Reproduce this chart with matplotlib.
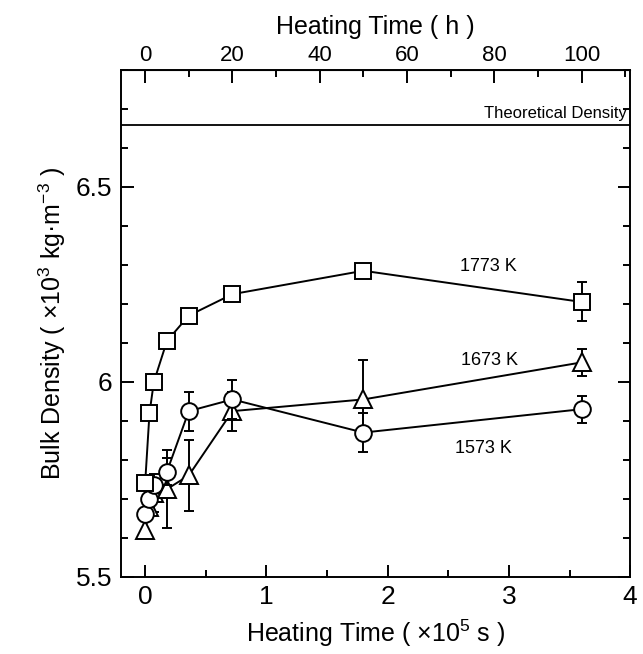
import numpy as np
import matplotlib.pyplot as plt
from matplotlib.ticker import MultipleLocator

plt.rcParams['font.family'] = ['Liberation Sans', 'DejaVu Sans']
plt.rcParams['mathtext.fontset'] = 'custom'
plt.rcParams['mathtext.rm'] = 'Liberation Sans'
plt.rcParams['mathtext.it'] = 'Liberation Sans:italic'
plt.rcParams['mathtext.default'] = 'regular'

# heating time in units of 1e5 s (0, 1, 2, 5, 10, 20, 50, 100 h)
time_s = [0, 0.036, 0.072, 0.18, 0.36, 0.72, 1.8, 3.6]

d1773 = [5.74, 5.92, 6.00, 6.105, 6.17, 6.225, 6.285, 6.205]
e1773 = [0, 0, 0.02, 0, 0, 0.01, 0.01, 0.05]

d1673 = [5.62, 5.68, 5.715, 5.725, 5.76, 5.925, 5.955, 6.05]
e1673 = [0, 0, 0.05, 0.1, 0.09, 0.05, 0.1, 0.035]

d1573 = [5.66, 5.70, 5.735, 5.77, 5.925, 5.955, 5.87, 5.93]
e1573 = [0, 0, 0, 0.035, 0.05, 0.05, 0.05, 0.035]

theo_density = 6.66

fig = plt.figure(figsize=(6.43, 6.54), dpi=100)
ax = fig.add_axes([0.188, 0.118, 0.792, 0.775])

style = dict(color='k', mfc='white', mec='k', mew=1.4, lw=1.4,
             ecolor='k', elinewidth=1.4, capsize=3.5, capthick=1.4)
ax.errorbar(time_s, d1673, yerr=e1673, marker='^', ms=13, zorder=3, **style)
ax.errorbar(time_s, d1573, yerr=e1573, marker='o', ms=12, zorder=4, **style)
ax.errorbar(time_s, d1773, yerr=e1773, marker='s', ms=12, zorder=5, **style)

ax.axhline(theo_density, color='k', lw=1.3)
ax.text(3.97, theo_density + 0.008, 'Theoretical Density', ha='right', va='bottom', fontsize=12)

ax.text(2.83, 6.295, '1773 K', ha='center', va='center', fontsize=13)
ax.text(2.84, 6.056, '1673 K', ha='center', va='center', fontsize=13)
ax.text(2.79, 5.83, '1573 K', ha='center', va='center', fontsize=13)

ax.set_xlim(-0.2, 4.0)
ax.set_ylim(5.5, 6.8)
ax.set_xticks([0, 1, 2, 3, 4])
ax.xaxis.set_minor_locator(MultipleLocator(0.5))
ax.set_yticks([5.5, 6.0, 6.5])
ax.set_yticklabels(['5.5', '6', '6.5'])
ax.yaxis.set_minor_locator(MultipleLocator(0.1))
ax.tick_params(which='both', direction='in', right=True, labelsize=19, width=1.4)
ax.tick_params(which='major', length=9, pad=6)
ax.tick_params(which='minor', length=5)
for sp in ax.spines.values():
    sp.set_linewidth(1.4)

ax.set_xlabel('Heating Time ( \u00d710$^5$ s )', fontsize=18, labelpad=6)
ax.set_ylabel('Bulk Density ( \u00d710$^3$ kg\u00b7m$^{-3}$ )', fontsize=18, labelpad=6)

top = ax.secondary_xaxis('top', functions=(lambda x: x * 1e5 / 3600, lambda h: h * 3600 / 1e5))
top.set_xticks([0, 20, 40, 60, 80, 100])
top.xaxis.set_minor_locator(MultipleLocator(10))
top.tick_params(which='both', direction='in', labelsize=16, width=1.4)
top.tick_params(which='major', length=9, pad=3)
top.tick_params(which='minor', length=5)
top.set_xlabel('Heating Time ( h )', fontsize=18, labelpad=8)

fig.savefig('out.png', dpi=100)
